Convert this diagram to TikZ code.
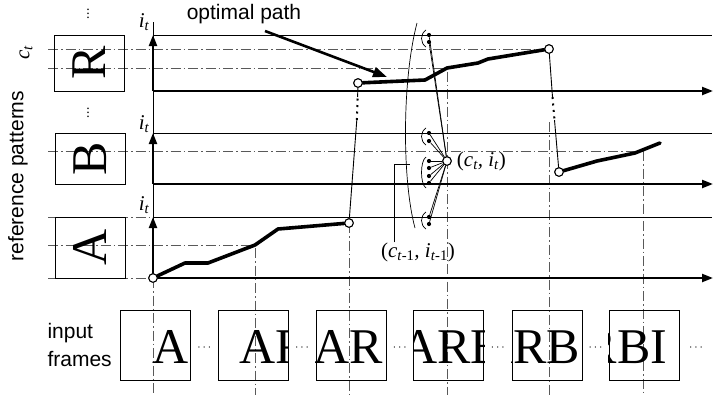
\documentclass[tikz,border=0pt]{standalone}
\usepackage{fontspec}
\usepackage{graphicx}
\setmainfont{Liberation Serif}
\setsansfont{Liberation Sans}
\usepackage{tikz}
\usetikzlibrary{arrows.meta, positioning, calc}

\newcommand{\ix}[2]{#1\textsubscript{#2}}

\tikzset{
  thinline/.style={line width=1pt},
  axis/.style={line width=2.2pt, -{Triangle[length=11pt,width=8pt]}},
  optpath/.style={line width=3.6pt, line join=round, line cap=round},
  jump/.style={line width=0.9pt},
  skipdots/.style={line width=2pt, dash pattern=on 2pt off 4.5pt},
  dashdot/.style={black!65, line width=1pt, dash pattern=on 10pt off 3pt on 1.5pt off 3pt},
  patbox/.style={draw, line width=1pt, minimum width=70pt, inner sep=0pt,
    font=\fontsize{50}{50}\selectfont},
  framebox/.style={draw, line width=1pt, minimum width=70pt, minimum height=70pt, inner sep=0pt},
  state/.style={circle, draw, fill=white, line width=1pt, minimum size=8.5pt, inner sep=0pt},
  pt/.style={circle, fill, minimum size=4.2pt, inner sep=0pt},
  sflab/.style={font=\fontsize{21}{28}\selectfont\sffamily},
  itlab/.style={font=\fontsize{21}{24}\selectfont\itshape, inner sep=0pt},
  skiplab/.style={font=\fontsize{14}{14}\selectfont, inner sep=0pt},
  framechar/.style={anchor=base west, inner sep=0pt, font=\fontsize{50}{50}\selectfont},
}

\begin{document}
\begin{tikzpicture}[x=1pt,y=-1pt]
\useasboundingbox (0,0) rectangle (715,400);

% dash-dot guides
\draw[dashdot] (48,49) -- (549,49);
\draw[dashdot] (48,68) -- (447,68) -- (447,395);
\draw[dashdot] (48,151) -- (643,151) -- (643,395);
\draw[dashdot] (48,245) -- (255,245) -- (255,395);
\draw[dashdot] (48,217) -- (153,217);
\draw[dashdot] (48,278) -- (153,278) -- (153,395);
\draw[dashdot] (349,223) -- (349,395);
\draw[dashdot] (549,122) -- (549,395);

% reference patterns
\node[patbox, minimum height=56pt] (boxR) at (89,63) {\rotatebox{90}{R}};
\node[patbox, minimum height=51pt] (boxB) at (90,158.5) {\rotatebox{90}{B}};
\node[patbox, minimum height=61pt] (boxA) at (90,247.5) {\rotatebox{90}{A}};
\node[skiplab] (vd1) at (88,11) {$\vdots$};
\node[skiplab] (vd2) at (88,110) {$\vdots$};
\node[sflab, rotate=90] (refpat) at (18,176) {reference patterns};
\node[itlab, rotate=90] (clab) at (26,53) {\ix{c}{t}};

% axes
\draw[thinline] (153,22) -- (153,278);
\foreach \top/\bot in {35/91, 133/184, 217/278} {
  \draw[thinline] (153,\top) -- (712,\top);
  \draw[axis] (153,\bot) -- (713,\bot);
  \draw[axis] (153,\bot) -- (153,\top);
}
\node[itlab] (iR) at (144,22) {\ix{i}{t}};
\node[itlab] (iB) at (144,124) {\ix{i}{t}};
\node[itlab] (iA) at (144,205) {\ix{i}{t}};

% fan of predecessors
\draw[line width=0.7pt] (417,23) .. controls (402,80) and (402,180) .. (415,228);
\foreach \ya/\yb in {30/47, 128/145, 157/188, 212/229}
  \draw[line width=0.7pt] (426,\ya) .. controls (420,\ya+4) and (420,\yb-4) .. (426,\yb);
\node[state] (ctn) at (447,161) {};
\foreach \y [count=\k] in {35,42,133,141,161,168,176,183,217,224} {
  \node[pt] (d\k) at (429,\y) {};
  \draw[line width=0.7pt] (d\k) -- (ctn);
}
\node[itlab, right=5pt of ctn] (ctlab) {\textup{(}\ix{c}{t}, \ix{i}{t}\textup{)}};
\node[itlab] (prevlab) at (418,252) {\textup{(}\ix{c}{t\textup{-1}}, \ix{i}{t\textup{-1}}\textup{)}};
\draw[line width=0.8pt] (prevlab.north -| 394,0) -- (394,164) -- (410,164);

% optimal path
\node[state] (a0) at (153,278) {};
\node[state] (a1) at (349,223) {};
\node[state] (r0) at (358,83) {};
\node[state] (r1) at (549,49) {};
\node[state] (b0) at (559,172) {};
\draw[optpath] (a0) -- (185,263) -- (208,263) -- (255,245) -- (278,229) -- (a1);
\draw[optpath] (r0) -- (425,80) -- (447,68) -- (478,63) -- (488,59) -- (r1);
\draw[optpath] (b0) -- (597,161) -- (635,153) -- (660,143);
\coordinate (jl1) at (356.8,120);
\coordinate (jl2) at (357.6,97);
\draw[jump] (a1) -- (jl1);
\draw[skipdots] (jl1) -- (jl2);
\draw[jump] (jl2) -- (r0);
\coordinate (jr1) at (552.5,97);
\coordinate (jr2) at (554.5,120);
\draw[jump] (r1) -- (jr1);
\draw[skipdots] (jr1) -- (jr2);
\draw[jump] (jr2) -- (b0);
\foreach \n in {a0,a1,r0,r1,b0,ctn}
  \node[state] at (\n) {};

\node[sflab] (optlab) at (244,14) {optimal path};
\coordinate (optstart) at (265,31);
\coordinate (opttip) at (387,77);
\draw[line width=2.6pt, -{Triangle[length=14pt,width=10pt]}] (optstart) -- (opttip);

% input frames
\node[sflab, align=left, anchor=west] (inlab) at (44,345) {input\\frames};
\foreach \cx/\tx/\txt [count=\k] in {155.5/152/A, 253/239/AR, 351/313.5/AR,
    448.5/401/ARB, 547/477/ARB, 644/547.5/ARBI} {
  \node[framebox] (f\k) at (\cx,345) {};
  \begin{scope}
    \clip (f\k.south west) rectangle (f\k.north east);
    \node[framechar] at (\tx,363) {\txt};
  \end{scope}
}
\foreach \a/\b in {f1/f2, f2/f3, f3/f4, f4/f5, f5/f6}
  \node[font=\fontsize{13}{13}\selectfont] at ($(\a.east)!0.5!(\b.west)+(0,3)$) {$\cdots$};
\node[font=\fontsize{13}{13}\selectfont, right=6pt of f6, yshift=-3pt] (fend) {$\cdots$};
\end{tikzpicture}
\end{document}
